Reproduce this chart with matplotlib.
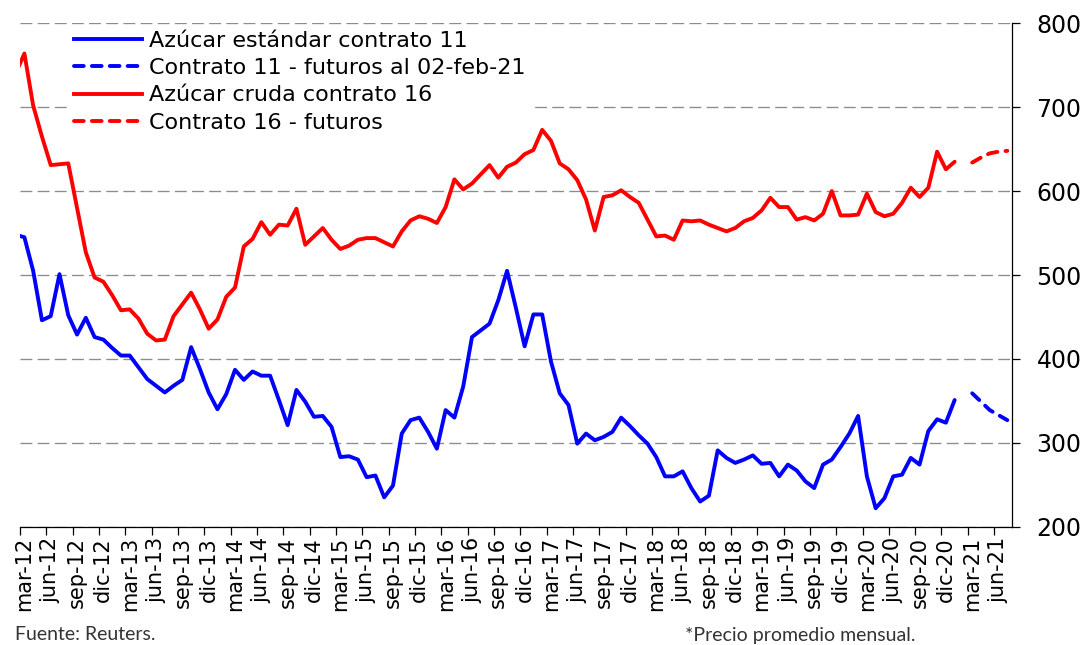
import matplotlib
matplotlib.use("Agg")
import matplotlib.pyplot as plt
from matplotlib.lines import Line2D

# etiquetas de los meses (eje de categorias mensual mar-12 .. jul-21)
meses = ['ene', 'feb', 'mar', 'abr', 'may', 'jun', 'jul', 'ago', 'sep', 'oct', 'nov', 'dic']
etiquetas = [f"{meses[(2 + k) % 12]}-{12 + (2 + k) // 12}" for k in range(113)]

# precios promedio mensuales, desde feb-12 (queda fuera del eje) hasta ene-21
contrato11 = [548, 545, 505, 446, 451, 501, 452, 429, 449, 426, 423, 413, 404, 404, 390,
              376, 368, 360, 368, 375, 414, 388, 360, 340, 358, 387, 375, 385, 380, 380,
              351, 321, 363, 349, 331, 332, 319, 283, 284, 280, 259, 261, 235, 249, 311,
              327, 330, 313, 293, 339, 330, 367, 426, 434, 442, 470, 505, 461, 415, 453,
              453, 397, 359, 345, 299, 311, 303, 307, 313, 330, 320, 309, 299, 283, 260,
              260, 266, 246, 230, 237, 291, 282, 276, 280, 285, 275, 276, 260, 274, 267,
              254, 246, 274, 280, 295, 311, 332, 260, 222, 234, 260, 262, 282, 274, 314,
              328, 324, 351]
contrato16 = [740, 764, 702, 665, 631, 632, 633, 580, 527, 497, 492, 476, 458, 459, 448,
              430, 422, 423, 451, 465, 479, 459, 436, 447, 474, 485, 534, 543, 563, 548,
              560, 559, 579, 536, 546, 556, 542, 531, 535, 542, 544, 544, 539, 534, 552,
              565, 570, 567, 562, 581, 614, 602, 609, 620, 631, 616, 629, 634, 644, 649,
              673, 660, 633, 626, 613, 590, 553, 593, 595, 601, 593, 586, 566, 546, 547,
              542, 565, 564, 565, 560, 556, 552, 556, 564, 568, 577, 592, 581, 581, 566,
              569, 565, 573, 600, 571, 571, 572, 597, 575, 570, 573, 586, 604, 593, 604,
              647, 626, 635]

# futuros mar-21 .. jul-21
futuros11 = [359, 349, 339, 333, 327]
futuros16 = [634, 640, 645, 647, 648]

x_hist = list(range(-1, len(contrato11) - 1))
x_fut = list(range(108, 108 + len(futuros11)))

azul = '#0000FF'
rojo = '#FF0000'
lw = 2.8
guion = (0, (2.5, 2.1))

fig = plt.figure(figsize=(10.85, 6.45), dpi=100)
ax = fig.add_axes([20 / 1085, (645 - 526.7) / 645, 991.7 / 1085, 503.4 / 645])

ax.plot(x_hist, contrato11, color=azul, lw=lw, solid_joinstyle='round', solid_capstyle='round', zorder=3)
ax.plot(x_fut, futuros11, color=azul, lw=lw, ls=guion, dash_capstyle='round', zorder=3)
ax.plot(x_hist, contrato16, color=rojo, lw=lw, solid_joinstyle='round', solid_capstyle='round', zorder=3)
ax.plot(x_fut, futuros16, color=rojo, lw=lw, ls=guion, dash_capstyle='round', zorder=3)

ax.set_xlim(-0.5, 112.5)
ax.set_ylim(200, 800)

# eje y a la derecha
ax.set_yticks(range(200, 801, 100))
ax.yaxis.set_tick_params(which='major', left=False, labelleft=False, right=True, labelright=True,
                         direction='out', length=5.8, width=0.9, labelsize=17, pad=12)
ax.yaxis.grid(True, color='#8c8c8c', lw=0.95, ls=(0, (9, 4)))
ax.set_axisbelow(True)

# marcas entre categorias, etiquetas centradas cada 3 meses
ax.set_xticks([k - 0.5 for k in range(0, 112, 3)])
ax.set_xticklabels([])
ax.set_xticks(list(range(0, 112, 3)), minor=True)
ax.set_xticklabels(etiquetas[0:112:3], minor=True, rotation=90, fontsize=15)
ax.tick_params(axis='x', which='major', direction='out', length=5.8, width=0.9)
ax.tick_params(axis='x', which='minor', length=0, pad=7.5)

for s in ['left', 'top']:
    ax.spines[s].set_visible(False)
for s in ['right', 'bottom']:
    ax.spines[s].set_linewidth(0.9)
    ax.spines[s].set_color('black')

handles = [
    Line2D([], [], color=azul, lw=lw),
    Line2D([], [], color=azul, lw=lw, ls=guion, dash_capstyle='round'),
    Line2D([], [], color=rojo, lw=lw),
    Line2D([], [], color=rojo, lw=lw, ls=guion, dash_capstyle='round'),
]
nombres = ['Azúcar estándar contrato 11', 'Contrato 11 - futuros al 02-feb-21',
           'Azúcar cruda contrato 16', 'Contrato 16 - futuros']
leg = ax.legend(handles, nombres, loc='upper left', bbox_to_anchor=(0.050, 0.994),
                fontsize=16, handlelength=3.06, handletextpad=0.32, labelspacing=0.33,
                borderpad=0.2, borderaxespad=0, frameon=True, fancybox=False)
leg.get_frame().set_facecolor('white')
leg.get_frame().set_edgecolor('none')
leg.get_frame().set_alpha(1)
leg.set_zorder(5)

fig.text(15 / 1085, 1 - 635 / 645, 'Fuente: Reuters.', family='Lato', fontsize=14,
         va='center', color='#333333')
fig.text(685 / 1085, 1 - 635 / 645, '*Precio promedio mensual.', family='Lato', fontsize=14,
         va='center', color='#333333')

fig.savefig('out.png', dpi=100)
